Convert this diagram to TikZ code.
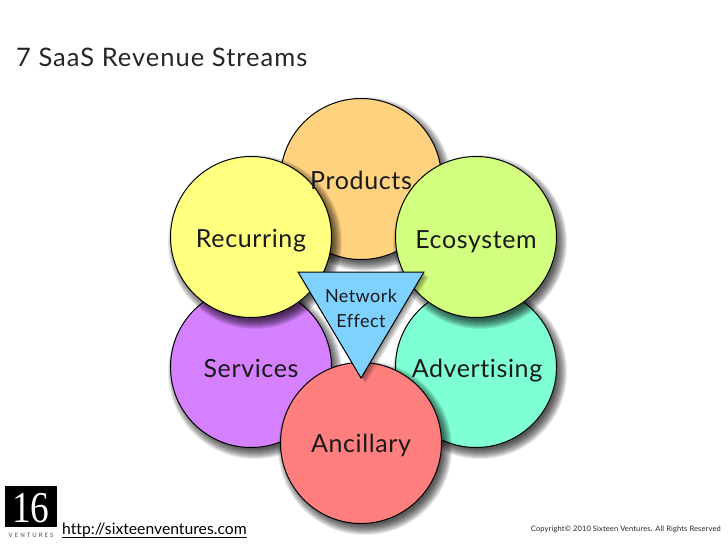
\documentclass[tikz,border=0pt]{standalone}
\usepackage{fontspec}
\setmainfont{Lato}[Ligatures=NoCommon]
\definecolor{cproducts}{HTML}{FFD27F}
\definecolor{crecurring}{HTML}{FFFF80}
\definecolor{cecosystem}{HTML}{D2FF7F}
\definecolor{cservices}{HTML}{D580FF}
\definecolor{cadvertising}{HTML}{7FFFD4}
\definecolor{cancillary}{HTML}{FF7F7F}
\definecolor{cnetwork}{HTML}{7FD2FF}
\tikzset{
  px/.style={x=1pt,y=-1pt},
  disc/.style={circle,draw=black,line width=1pt,minimum size=161pt,inner sep=0pt},
  lab/.style={inner sep=0pt,font=\fontsize{25}{28}\selectfont\addfontfeatures{LetterSpace=2.5},text=black!90},
  smalllab/.style={inner sep=0pt,font=\fontsize{18}{21}\selectfont\addfontfeatures{LetterSpace=2.5},text=black!90}
}
\newcommand{\softshadow}[2]{%
  \foreach \d in {87,86,85,84,83,82,81,80,79,78,77}{%
    \fill[black,opacity=0.085] (#1+4,#2+5) circle[radius=\d pt];}%
}
\begin{document}
\begin{tikzpicture}[px]
\useasboundingbox (0,0) rectangle (728,546);
\fill[white] (0,0) rectangle (728,546);
\softshadow{361}{179}
\node[disc,fill=cproducts] (products) at (361,179) {};
\softshadow{251}{367}
\node[disc,fill=cservices] (services) at (251,367) {};
\softshadow{476}{367}
\node[disc,fill=cadvertising] (advertising) at (476,367) {};
\softshadow{251}{237}
\node[disc,fill=crecurring] (recurring) at (251,237) {};
\softshadow{476}{237}
\node[disc,fill=cecosystem] (ecosystem) at (476,237) {};
\softshadow{361}{443}
\node[disc,fill=cancillary] (ancillary) at (361,443) {};
\coordinate (ta) at (298,272);
\coordinate (tb) at (424,272);
\coordinate (tc) at (361,378);
\foreach \k in {1,2,3,4,5}{
  \fill[black,opacity=0.1] (298+\k,272+\k) -- (424+\k,272+\k) -- (361+\k,378+\k) -- cycle;}
\draw[fill=cnetwork,line width=1pt,line join=miter] (ta) -- (tb) -- (tc) -- cycle;
\node[lab,anchor=base] (tproducts) at (361,189) {Products};
\node[lab,anchor=base] (trecurring) at (251,247) {Recurring};
\node[lab,anchor=base] (tecosystem) at (476,248) {Ecosystem};
\node[lab,anchor=base] (tservices) at (251,377) {Services};
\node[lab,anchor=base] (tadvertising) at (477,377) {Advertising};
\node[lab,anchor=base] (tancillary) at (361,452) {Ancillary};
\node[smalllab,anchor=base] (tnet) at (361,302) {Network};
\node[smalllab,anchor=base] (teff) at (361,327) {Effect};
\node[anchor=base west,inner sep=0pt,font=\fontsize{25.5}{28}\selectfont\addfontfeatures{LetterSpace=4},text=black!85] (title) at (16,66) {7 SaaS Revenue Streams};
\node[fill=black,minimum width=52pt,minimum height=41pt,inner sep=0pt,anchor=north west] (logo) at (5,486) {};
\node[text=white,font=\fontspec{Liberation Serif}\fontsize{44}{44}\selectfont,inner sep=0pt,anchor=base,xscale=.85] (sixteen) at (31,522) {16};
\node[anchor=base,inner sep=0pt,font=\fontsize{6}{7}\selectfont,text=black!70] (ventures) at (31,537) {V\,\,E\,\,N\,\,T\,\,U\,\,R\,\,E\,\,S};
\node[anchor=base west,inner sep=0pt,font=\fontsize{15.7}{19}\selectfont] (link) at (62,534) {http://sixteenventures.com};
\draw[line width=0.8pt] (link.west |- 0,537) -- (link.east |- 0,537);
\node[anchor=base east,inner sep=0pt,font=\fontsize{7.5}{9}\selectfont\addfontfeatures{LetterSpace=2},text=black!85] (copy) at (721,531) {Copyright© 2010 Sixteen Ventures. All Rights Reserved};
\end{tikzpicture}
\end{document}
